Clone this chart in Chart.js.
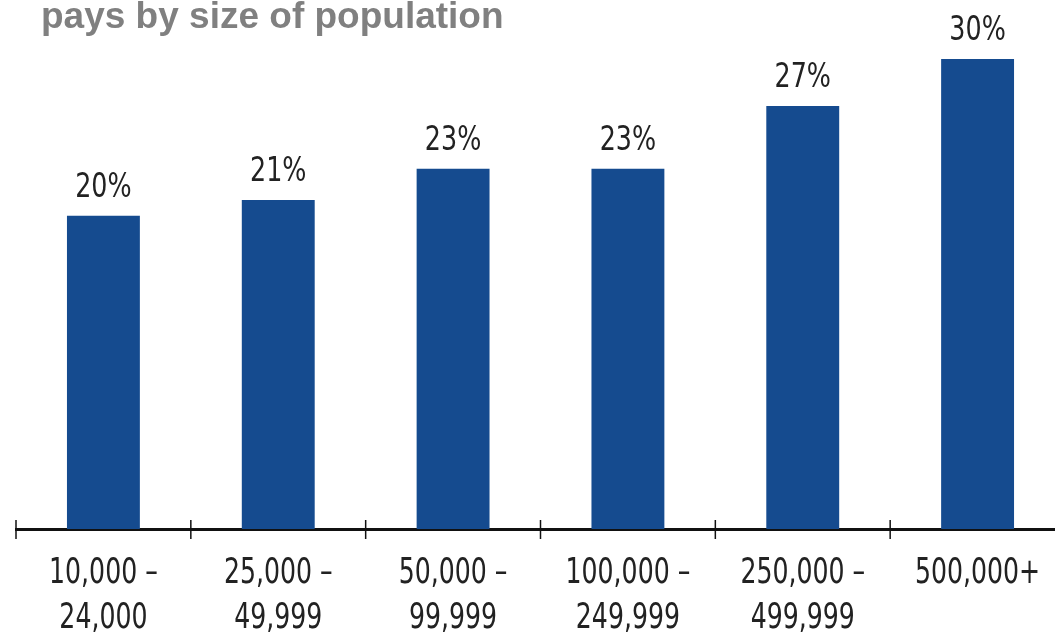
<!DOCTYPE html>
<html>
<head>
<meta charset="utf-8">
<script src="https://cdn.jsdelivr.net/npm/chart.js@4"></script>
<style>
  html, body { margin: 0; padding: 0; background: #fff; overflow: hidden; }
  #wrap { width: 1070px; height: 632px; }
</style>
</head>
<body>
<div id="wrap"><canvas id="canvas"></canvas></div>
<script>
const chartTitle = "pays by size of population";
const populationBands = [
    ["10,000 \u2013", "24,000"],
    ["25,000 \u2013", "49,999"],
    ["50,000 \u2013", "99,999"],
    ["100,000 \u2013", "249,999"],
    ["250,000 \u2013", "499,999"],
    ["500,000+"]
];
const shares = [20, 21, 23, 23, 27, 30];

const narrowFont = '"DejaVu Sans Condensed", "DejaVu Sans", sans-serif';

// squeezed text, to get a tall condensed look out of DejaVu Condensed
function narrowText(ctx, text, x, y, squeeze) {
    ctx.save();
    ctx.translate(x, y);
    ctx.scale(squeeze, 1);
    ctx.fillText(text, 0, 0);
    ctx.restore();
}

// title, value labels, category labels and the ticks crossing the axis
const extras = {
    id: "extras",
    afterDraw(chart) {
        const ctx = chart.ctx;
        const xScale = chart.scales.x;
        const bottom = chart.chartArea.bottom;
        ctx.save();

        ctx.fillStyle = "#808080";
        ctx.font = 'bold 37px "Liberation Sans", Arial, sans-serif';
        ctx.textAlign = "left";
        ctx.textBaseline = "alphabetic";
        ctx.fillText(chartTitle, 41, 28);

        ctx.strokeStyle = "#111";
        ctx.lineWidth = 1.5;
        for (let i = 0; i < shares.length; i++) {
            const x = xScale.getPixelForValue(i - 0.5);
            ctx.beginPath();
            ctx.moveTo(x, bottom - 9);
            ctx.lineTo(x, bottom + 10);
            ctx.stroke();
        }

        ctx.fillStyle = "#222";
        ctx.textAlign = "center";
        ctx.font = "34px " + narrowFont;
        chart.getDatasetMeta(0).data.forEach(function (bar, i) {
            narrowText(ctx, shares[i] + "%", bar.x, bar.y - 19, 0.83);
        });

        ctx.font = "35px " + narrowFont;
        populationBands.forEach(function (lines, i) {
            const x = xScale.getPixelForValue(i);
            lines.forEach(function (line, j) {
                narrowText(ctx, line, x, bottom + 54 + j * 45, 0.8);
            });
        });
        ctx.restore();
    }
};

const ctx = document.getElementById("canvas").getContext("2d");
new Chart(ctx, {
    type: "bar",
    data: {
        labels: populationBands,
        datasets: [{
            data: shares,
            backgroundColor: "#154b8f",
            barPercentage: 0.417,
            categoryPercentage: 1
        }]
    },
    options: {
        responsive: true,
        maintainAspectRatio: false,
        animation: false,
        layout: { padding: { left: 16, right: 5, top: 59, bottom: 103 } },
        plugins: {
            legend: { display: false },
            tooltip: { enabled: false }
        },
        scales: {
            x: {
                grid: { display: false, drawTicks: false },
                border: { display: true, color: "#111", width: 3 },
                ticks: { display: false }
            },
            y: {
                display: false,
                min: 0,
                max: 30
            }
        }
    },
    plugins: [extras]
});
</script>
</body>
</html>
